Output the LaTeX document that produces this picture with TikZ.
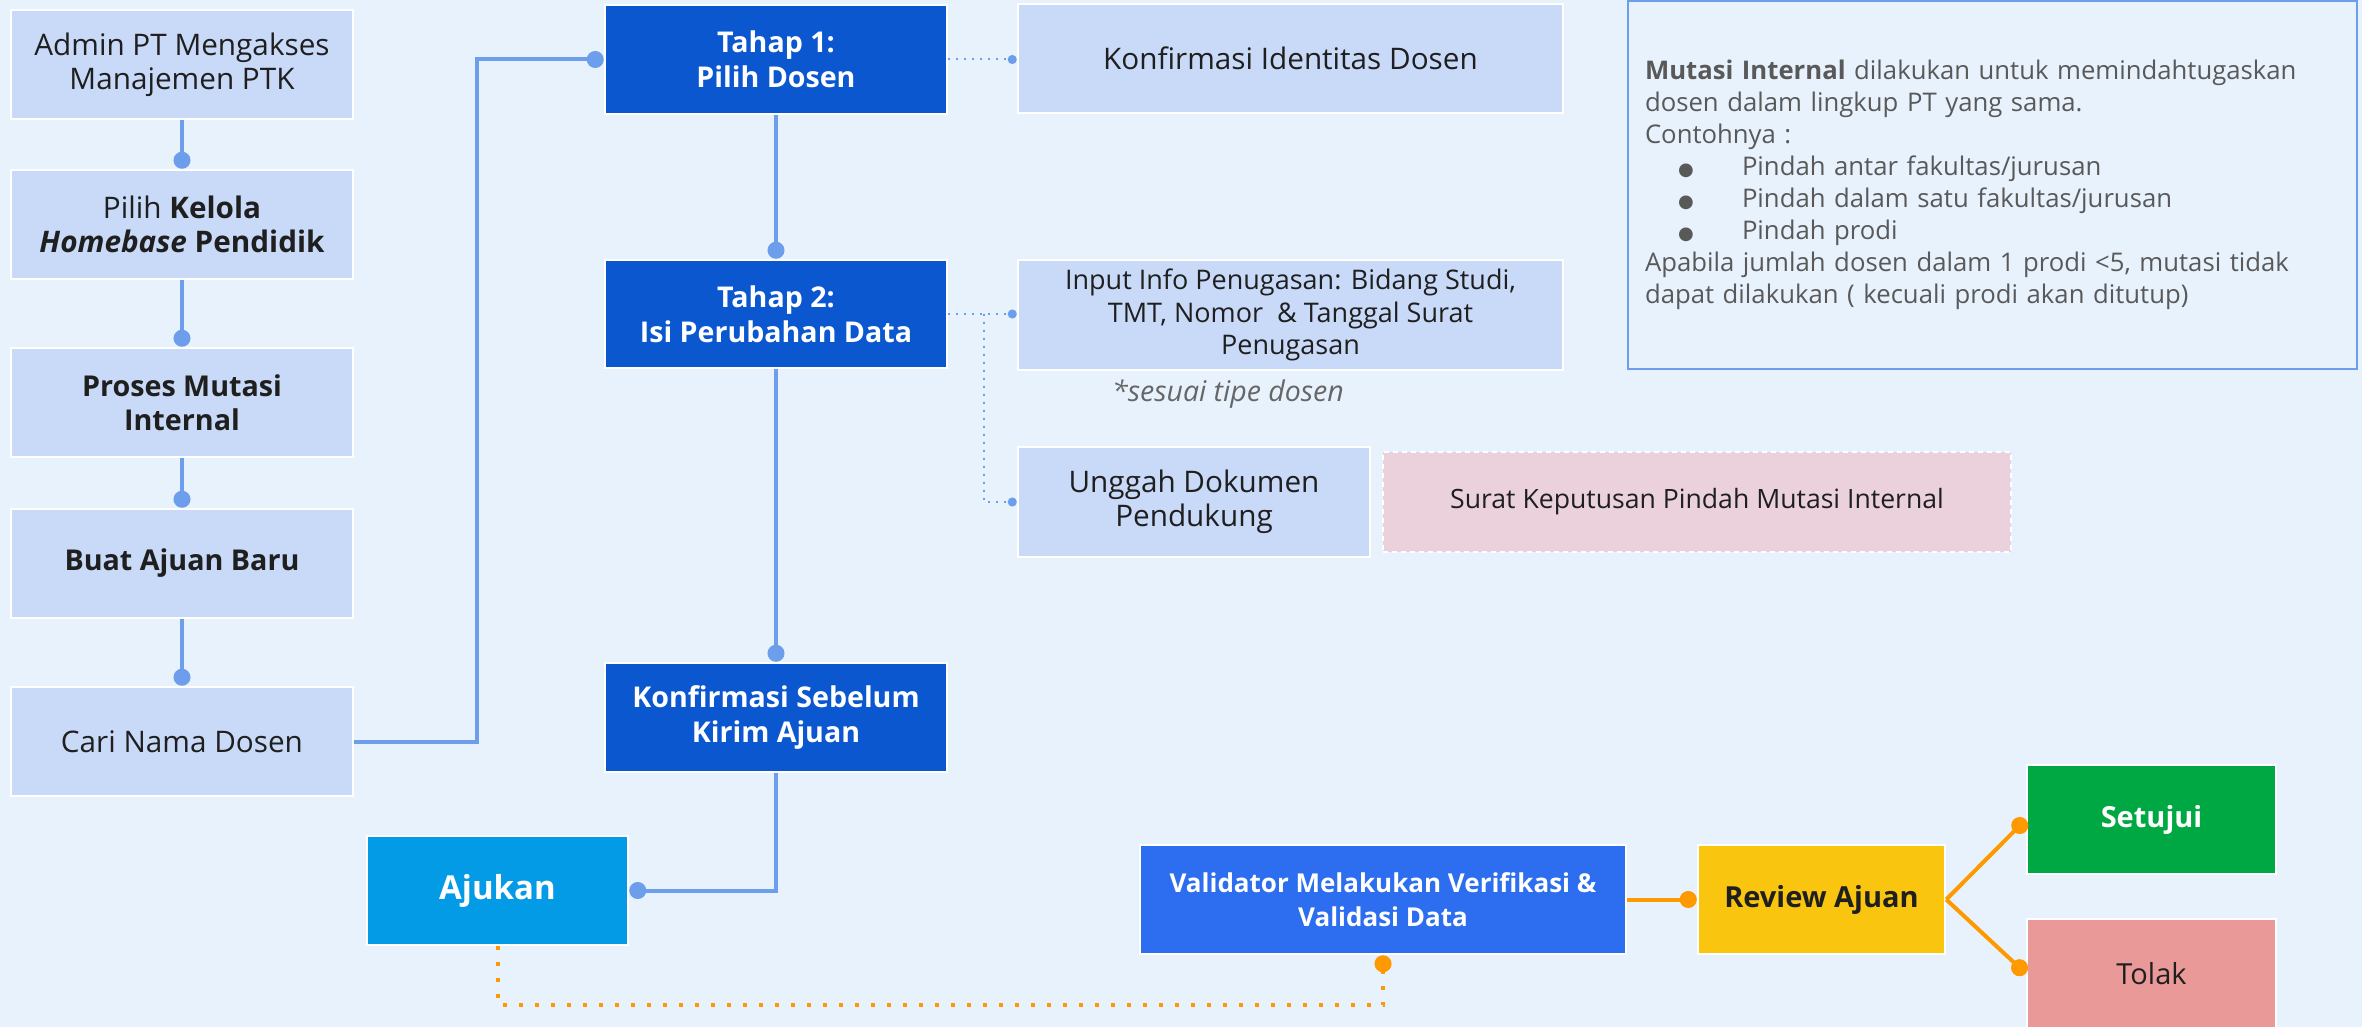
\documentclass[tikz,border=0pt]{standalone}
\usepackage{fontspec}
\setmainfont{Open Sans}
\newfontfamily\dejavu{DejaVu Sans}
\usetikzlibrary{arrows.meta,calc}
\definecolor{bgc}{HTML}{E8F2FD}
\definecolor{lightbx}{HTML}{C9DAF8}
\definecolor{darkbl}{HTML}{0B57D0}
\definecolor{connc}{HTML}{6D9EEB}
\definecolor{ajukc}{HTML}{039BE5}
\definecolor{valc}{HTML}{2C6EEF}
\definecolor{revc}{HTML}{F9C50F}
\definecolor{setc}{HTML}{00A843}
\definecolor{tolc}{HTML}{EA9999}
\definecolor{suratc}{HTML}{EAD1DC}
\definecolor{orng}{HTML}{FF9900}
\definecolor{txt}{HTML}{1F1F1F}
\definecolor{infotxt}{HTML}{595959}
\definecolor{sesc}{HTML}{666666}
\newcommand{\blt}{\hspace*{33pt}\makebox[64pt][l]{\dejavu\fontsize{18}{18}\selectfont ●}}
\tikzset{
  wh/.style 2 args={minimum width=#1, minimum height=#2},
  box/.style={draw=white, line width=2.5pt, align=center, inner sep=0pt, text=txt,
              font=\fontsize{29.7}{34}\selectfont},
  lbox/.style={box, fill=lightbx},
  bbox/.style={lbox, font=\bfseries\fontsize{28.7}{34}\selectfont},
  dbox/.style={box, fill=darkbl, text=white, font=\bfseries\fontsize{28.6}{35}\selectfont},
  conn/.style={draw=connc, line width=4pt, -{Circle[length=17pt,width=17pt]}},
  dconn/.style={draw=connc, line width=2pt, dash pattern=on 2pt off 6pt, -{Circle[length=9pt,width=9pt]}},
  oconn/.style={draw=orng, line width=4pt, -{Circle[length=17pt,width=17pt]}},
  odconn/.style={draw=orng, line width=4pt, dash pattern=on 4pt off 12pt, -{Circle[length=17pt,width=17pt]}},
}
\begin{document}
\begin{tikzpicture}[x=1pt,y=-1pt]
\useasboundingbox (0,0) rectangle (2362,1027);
\clip (0,0) rectangle (2362,1027);
\fill[bgc] (0,0) rectangle (2362,1027);

% left column
\node[lbox, wh={342pt}{109pt}] (admin) at (182,64.5) {Admin PT Mengakses\\Manajemen PTK};
\node[lbox, wh={342pt}{109pt}] (kelola) at (182,224.5) {Pilih \textbf{Kelola}\\\textbf{\textit{Homebase}} \textbf{Pendidik}};
\node[bbox, wh={342pt}{109pt}] (proses) at (182,402.5) {Proses Mutasi\\Internal};
\node[bbox, wh={342pt}{109pt}] (buat) at (182,563.5) {Buat Ajuan Baru};
\node[lbox, wh={342pt}{109pt}] (cari) at (182,741.5) {Cari Nama Dosen};

% middle column
\node[dbox, wh={342pt}{109pt}] (tahap1) at (776,59.5) {Tahap 1:\\Pilih Dosen};
\node[dbox, wh={342pt}{108pt}] (tahap2) at (776,314) {Tahap 2:\\Isi Perubahan Data};
\node[dbox, wh={342pt}{109pt}] (konfs) at (776,717.5) {Konfirmasi Sebelum\\Kirim Ajuan};
\node[box, fill=ajukc, text=white, wh={261pt}{109pt}, font=\bfseries\fontsize{33}{38}\selectfont] (ajukan) at (497.5,890.5) {Ajukan};

% right part
\node[lbox, wh={545pt}{109pt}] (konfid) at (1290.5,58.5) {Konfirmasi Identitas Dosen};
\node[lbox, wh={545pt}{110pt}, font=\fontsize{27}{32.5}\selectfont] (input) at (1290.5,315) {Input Info Penugasan: Bidang Studi,\\TMT, Nomor~~\& Tanggal Surat\\Penugasan};
\node[text=sesc, font=\itshape\fontsize{28.5}{32}\selectfont, inner sep=0pt] (sesuai) at (1228,394) {*sesuai tipe dosen};
\node[lbox, wh={352pt}{110pt}] (unggah) at (1194,502) {Unggah Dokumen\\Pendukung};
\node[box, fill=suratc, dash pattern=on 5pt off 4pt, wh={628pt}{100pt}, font=\fontsize{26.6}{32}\selectfont] (surat) at (1697,502) {Surat Keputusan Pindah Mutasi Internal};

\node[draw=connc, line width=2pt, fill=bgc, wh={729pt}{368pt}, text width=695pt, align=left,
      inner xsep=17pt, inner ysep=0pt, text=infotxt, font=\fontsize{25.7}{32}\selectfont] (info) at (1992.5,185)
{\textbf{Mutasi Internal} dilakukan untuk memindahtugaskan\\
dosen dalam lingkup PT yang sama.\\
Contohnya :\\
\blt Pindah antar fakultas/jurusan\\
\blt Pindah dalam satu fakultas/jurusan\\
\blt Pindah prodi\\
Apabila jumlah dosen dalam 1 prodi <5, mutasi tidak\\
dapat dilakukan ( kecuali prodi akan ditutup)};

% bottom flow
\node[box, fill=valc, text=white, wh={486pt}{109pt}, font=\bfseries\fontsize{26}{34}\selectfont] (validator) at (1383,899.5) {Validator Melakukan Verifikasi \&\\Validasi Data};
\node[box, fill=revc, wh={247pt}{109pt}, font=\bfseries\fontsize{29}{34}\selectfont] (review) at (1821.5,899.5) {Review Ajuan};
\node[box, fill=setc, text=white, wh={249pt}{109pt}, font=\bfseries\fontsize{29}{34}\selectfont] (setuju) at (2151.5,819.5) {Setujui};
\node[box, fill=tolc, wh={249pt}{109pt}, font=\fontsize{29}{34}\selectfont] (tolak) at (2151.5,973.5) {Tolak};

% connectors
\draw[conn] (admin.south) -- (kelola.north);
\draw[conn] (kelola.south) -- (proses.north);
\draw[conn] (proses.south) -- (buat.north);
\draw[conn] (buat.south) -- (cari.north);
\draw[conn] (cari.east) -| ([xshift=-127pt]tahap1.west) -- (tahap1.west);
\draw[conn] (tahap1.south) -- (tahap2.north);
\draw[conn] (tahap2.south) -- (konfs.north);
\draw[conn] (konfs.south) |- (ajukan.east);

\draw[dconn] (tahap1.east) -- (tahap1.east -| konfid.west);
\draw[dconn] (tahap2.east) -- (tahap2.east -| input.west);
\draw[dconn] ([xshift=36pt]tahap2.east) |- (unggah.west);

\draw[odconn] (ajukan.south) -- ++(0,59) -| (validator.south);
\draw[oconn] (validator.east) -- (review.west);
\draw[oconn] (review.east) -- (setuju.west);
\draw[oconn] (review.east) -- (tolak.west);
\end{tikzpicture}
\end{document}
